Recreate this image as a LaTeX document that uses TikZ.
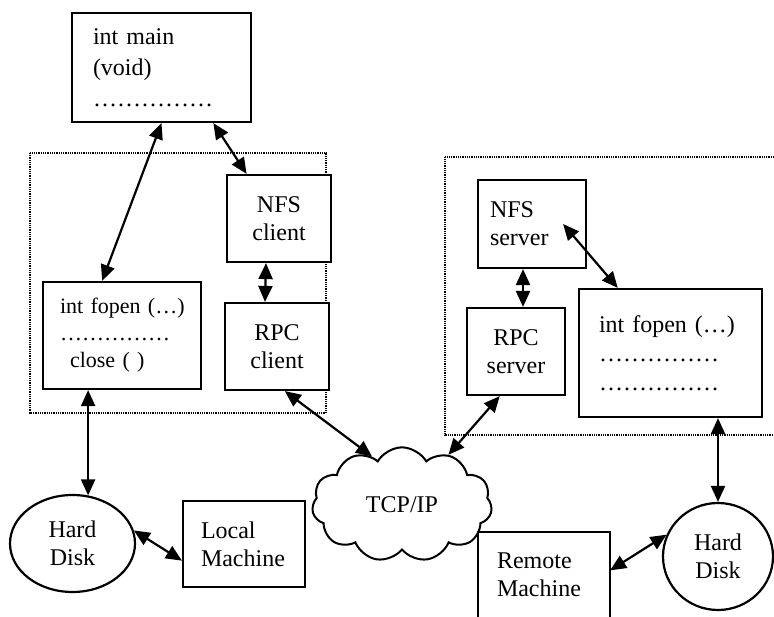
\documentclass[tikz,border=0pt]{standalone}
\usepackage{fontspec}
\setmainfont{Liberation Serif}
\usepackage{tikz}
\usetikzlibrary{arrows.meta,shapes.geometric,shapes.symbols}

\begin{document}
\begin{tikzpicture}[
  x=1pt, y=-1pt,
  font=\fontsize{24}{28}\selectfont,
  cbox/.style={draw, fill=white, line width=2.2pt, inner sep=0pt, align=center},
  lbox/.style={cbox, align=left},
  disk/.style={ellipse, draw, fill=white, line width=2.2pt, inner sep=0pt, align=center},
  frame/.style={line width=1.8pt, dash pattern=on 1pt off 0.8pt},
  arr/.style={{Triangle[length=16pt,width=14pt]}-{Triangle[length=16pt,width=14pt]}, line width=2.2pt}
]
  \useasboundingbox (0,0) rectangle (774,617);

  % Machine frames
  \draw[frame] (30,153) rectangle (326,413);
  \draw[frame] (774,157) -- (445,157) -- (445,435) -- (774,435);

  % Local machine
  \node[lbox, minimum width=179pt, minimum height=109pt, text width=137pt,
    font=\fontsize{24}{31}\selectfont] (main) at (161.5,67.5)
    {int main\\(void)\\……………};
  \node[lbox, minimum width=158pt, minimum height=107pt, text width=124pt,
    font=\fontsize{22}{27}\selectfont] (lfopen) at (122,335.5)
    {\mbox{int fopen (…)}\\……………\\\hspace*{10pt}close ( )};
  \node[cbox, minimum width=104pt, minimum height=87pt] (nfsc) at (279,218.5)
    {NFS\\client};
  \node[cbox, minimum width=104pt, minimum height=87pt] (rpcc) at (277,346.5)
    {RPC\\client};
  \node[disk, minimum width=125pt, minimum height=97pt] (lhd) at (72.5,543.5)
    {Hard\\Disk};
  \node[lbox, minimum width=122pt, minimum height=86pt, text width=86pt] (lmach) at (244,544)
    {Local\\Machine};

  % Network
  \node[cloud, draw, line width=2pt, cloud puffs=11, cloud puff arc=120,
    minimum width=180pt, minimum height=85pt, inner sep=0pt] (tcp) at (402,504.5) {TCP/IP};

  % Remote machine
  \node[lbox, minimum width=108pt, minimum height=88pt, text width=84pt] (nfss) at (532,224)
    {NFS\\server};
  \node[cbox, minimum width=98pt, minimum height=87pt] (rpcs) at (516,351.5)
    {RPC\\server};
  \node[lbox, minimum width=183pt, minimum height=128pt, text width=143pt,
    font=\fontsize{24}{29}\selectfont] (rfopen) at (670.5,353)
    {\mbox{int fopen (…)}\\……………\\……………};
  \node[disk, minimum width=110pt, minimum height=107pt] (rhd) at (718,556.5)
    {Hard\\Disk};
  \node[lbox, draw=none, minimum width=130pt, minimum height=84pt, text width=94pt] (rmach) at (544,575)
    {Remote\\Machine};
  \draw[line width=2.2pt] (rmach.south west) -- (rmach.north west)
    -- (rmach.north east) -- (rmach.south east);

  % Arrows
  \draw[arr] (main.south) -- (lfopen.110);
  \draw[arr] (main.-47) -- (nfsc.126);
  \draw[arr] ([xshift=-13pt]nfsc.south) -- ([xshift=-12pt]rpcc.north);
  \draw[arr] (rpcc.-80) -- (tcp.122);
  \draw[arr] (rpcs.-110) -- (tcp.47);
  \draw[arr] (lfopen.south -| lhd.72) -- (lhd.72);
  \draw[arr] (lhd.12) -- (lmach.195);
  \draw[arr] ([xshift=-9pt]nfss.south) -- ([xshift=7pt]rpcs.north);
  \draw[arr] ([xshift=-24pt]nfss.east) -- (rfopen.129);
  \draw[arr] (rfopen.south -| rhd.north) -- (rhd.north);
  \draw[arr] (rmach.4) -- (rhd.157);
\end{tikzpicture}
\end{document}
